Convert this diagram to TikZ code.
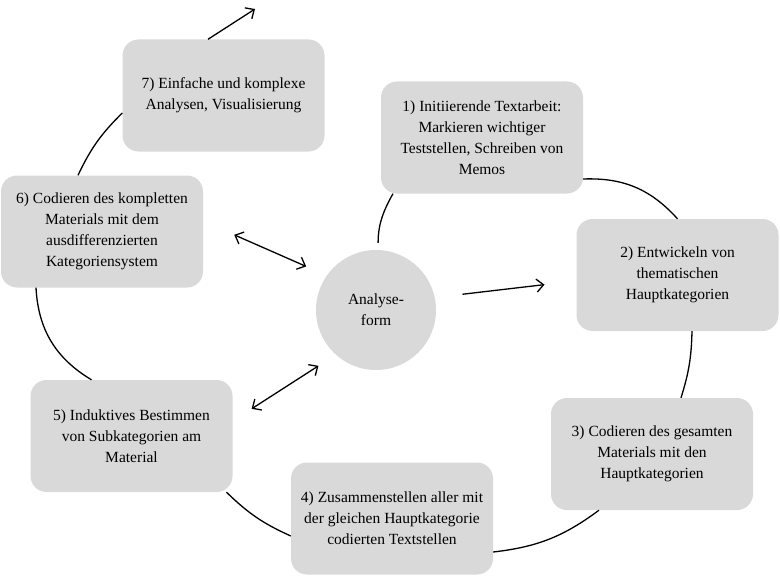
\documentclass[tikz,border=0pt]{standalone}
\usepackage{fontspec}
\setmainfont{Liberation Serif}
\usetikzlibrary{arrows.meta}
\definecolor{boxgray}{RGB}{217,217,217}
\begin{document}
\begin{tikzpicture}[x=1pt,y=-1pt,
  stepbox/.style={rectangle, rounded corners=16pt, fill=boxgray, minimum width=202pt, minimum height=112pt, inner sep=0pt, align=center, font=\fontsize{15.5}{21}\selectfont},
  hub/.style={circle, fill=boxgray, minimum size=120pt, inner sep=0pt, align=center, font=\fontsize{15.5}{21}\selectfont},
  link/.style={line width=1.3pt, black},
  arr/.style={link, -{Straight Barb[length=7pt,width=13pt]}},
  darr/.style={link, {Straight Barb[length=7pt,width=13pt]}-{Straight Barb[length=7pt,width=13pt]}}]
\useasboundingbox (0,0) rectangle (780,578);
\node[stepbox] (b7) at (223.5,95.5) {7) Einfache und komplexe\\Analysen, Visualisierung};
\node[stepbox] (b1) at (482,137.5) {1) Initiierende Textarbeit:\\Markieren wichtiger\\Teststellen, Schreiben von\\Memos};
\node[stepbox] (b2) at (677.5,275) {2) Entwickeln von\\thematischen\\Hauptkategorien};
\node[stepbox] (b3) at (652,454) {3) Codieren des gesamten\\Materials mit den\\Hauptkategorien};
\node[stepbox] (b4) at (392,518.5) {4) Zusammenstellen aller mit\\der gleichen Hauptkategorie\\codierten Textstellen};
\node[stepbox] (b5) at (131.5,436) {5) Induktives Bestimmen\\von Subkategorien am\\Material};
\node[stepbox] (b6) at (102,231.5) {6) Codieren des kompletten\\Materials mit dem\\ausdifferenzierten\\Kategoriensystem};
\node[hub] (c) at (376,310) {Analyse-\\form};
\coordinate (top) at (255,9);
% cycle lines
\draw[link] ([xshift=-24pt]b6.north) to[bend left=10] ([yshift=-17.5pt]b7.west);
\draw[link] ([xshift=-66pt]b6.south) to[bend right=28] ([xshift=-40pt]b5.north);
\draw[link] ([xshift=95pt]b5.south) to[bend right=10] ([yshift=-17.5pt]b4.west);
\draw[link] ([yshift=-33.5pt]b4.east) to[bend right=15] ([xshift=-53pt]b3.south);
\draw[link] ([xshift=29pt]b3.north) to[bend right=8] ([xshift=14.5pt]b2.south);
\draw[link] (b2.north) to[bend right=25] ([yshift=-41.5pt]b1.east);
\draw[link, shorten <=7pt] (c.88) to[bend left=15] ([xshift=-89pt]b1.south);
% arrows
\draw[arr] ([xshift=-15.5pt]b7.north) -- (top);
\draw[arr, shorten <=27.8pt, shorten >=32pt] (c.12) -- ([yshift=-5.9pt]b2.west);
\draw[darr, shorten <=33.9pt, shorten >=22.4pt] ([yshift=10.3pt]b6.east) -- (c.145.6);
\draw[darr, shorten <=22.5pt, shorten >=20.5pt] ([yshift=15pt]b5.east) -- (c.228.6);
\end{tikzpicture}
\end{document}
